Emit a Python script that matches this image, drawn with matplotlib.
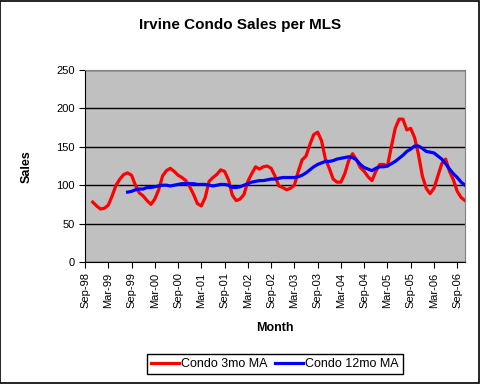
import matplotlib
matplotlib.use('Agg')
import matplotlib.pyplot as plt
import pandas as pd
from matplotlib.patches import Rectangle

plt.rcParams['font.family'] = ['Liberation Sans', 'DejaVu Sans']

# month axis: Sep-98 .. Nov-06
months = pd.date_range('1998-09-01', periods=99, freq='MS')
month_labels = list(months.strftime('%b-%y'))

# 3 month moving average, starts Nov-98
condo_3mo = [78, 73, 69, 70, 74, 86, 100, 108, 114, 116,
             113, 100, 90, 86, 80, 75, 82, 94, 112, 119,
             122, 118, 113, 110, 106, 98, 88, 76, 73, 84,
             105, 110, 114, 120, 118, 107, 87, 80, 82, 88,
             105, 115, 124, 121, 124, 125, 122, 112, 99, 97,
             94, 96, 100, 118, 133, 138, 153, 166, 169, 158,
             134, 122, 108, 104, 104, 115, 132, 141, 133, 123,
             118, 111, 106, 118, 127, 127, 125, 150, 174, 186,
             186, 172, 174, 162, 140, 112, 96, 89, 96, 112,
             128, 134, 118, 107, 92, 84, 80]
start_3mo = 2

# 12 month moving average, starts Aug-99
condo_12mo = [91, 92, 94, 95, 95, 97, 97, 98, 99, 100,
              100, 99, 100, 101, 102, 102, 102, 102, 101, 101,
              101, 100, 99, 100, 101, 101, 100, 97, 97, 98,
              100, 102, 104, 105, 106, 106, 107, 108, 108, 109,
              110, 110, 110, 110, 111, 113, 116, 120, 124, 127,
              129, 131, 131, 132, 134, 135, 136, 137, 136, 133,
              127, 123, 121, 119, 122, 124, 124, 125, 128, 131,
              135, 139, 144, 147, 151, 151, 148, 144, 143, 142,
              138, 134, 128, 121, 115, 110, 104, 100]
start_12mo = 11

fig = plt.figure(figsize=(4.8, 3.84), dpi=100)
ax = fig.add_axes([85/480, 1-262/384, 380/480, 192/384])
ax.set_facecolor('#C0C0C0')

x3 = list(range(start_3mo, start_3mo + len(condo_3mo)))
x12 = list(range(start_12mo, start_12mo + len(condo_12mo)))
ax.plot(x3, condo_3mo, color='#FF0000', lw=2.3, label='Condo 3mo MA', zorder=3)
ax.plot(x12, condo_12mo, color='#0000FF', lw=2.3, label='Condo 12mo MA', zorder=4)

ax.set_xlim(0, 98)
ax.set_ylim(0, 250)
ax.set_yticks(range(0, 251, 50))
ax.yaxis.grid(True, color='black', lw=1)
ax.set_axisbelow(True)

tick_pos = list(range(0, len(month_labels), 6))
ax.set_xticks(tick_pos)
ax.set_xticklabels([month_labels[i] for i in tick_pos], rotation=90, fontsize=8)
ax.tick_params(axis='y', labelsize=8, length=4, direction='out', color='black')
ax.tick_params(axis='x', length=4, direction='out', color='black')

for side in ['top', 'right']:
    ax.spines[side].set_color('#808080')
for side in ['left', 'bottom']:
    ax.spines[side].set_color('black')

fig.text(0.5, 1-25/384, 'Irvine Condo Sales per MLS', ha='center', va='center',
         fontsize=11, fontweight='bold')
fig.text(27/480, 1-167/384, 'Sales', ha='center', va='center', rotation=90,
         fontsize=9, fontweight='bold')
fig.text(275/480, 1-328/384, 'Month', ha='center', va='center',
         fontsize=9, fontweight='bold')

leg = fig.legend(loc='center', bbox_to_anchor=(275/480, 1-364/384), ncol=2,
                 fontsize=9, fancybox=False, edgecolor='black', framealpha=1,
                 handlelength=2.2, handletextpad=0.2, columnspacing=0.6,
                 borderpad=0.3)
leg.get_frame().set_linewidth(1)

fig.patches.append(Rectangle((0.001, 0.002), 0.996, 0.996, transform=fig.transFigure,
                             fill=False, edgecolor='black', lw=1.2))

fig.savefig('out.png', dpi=100)
